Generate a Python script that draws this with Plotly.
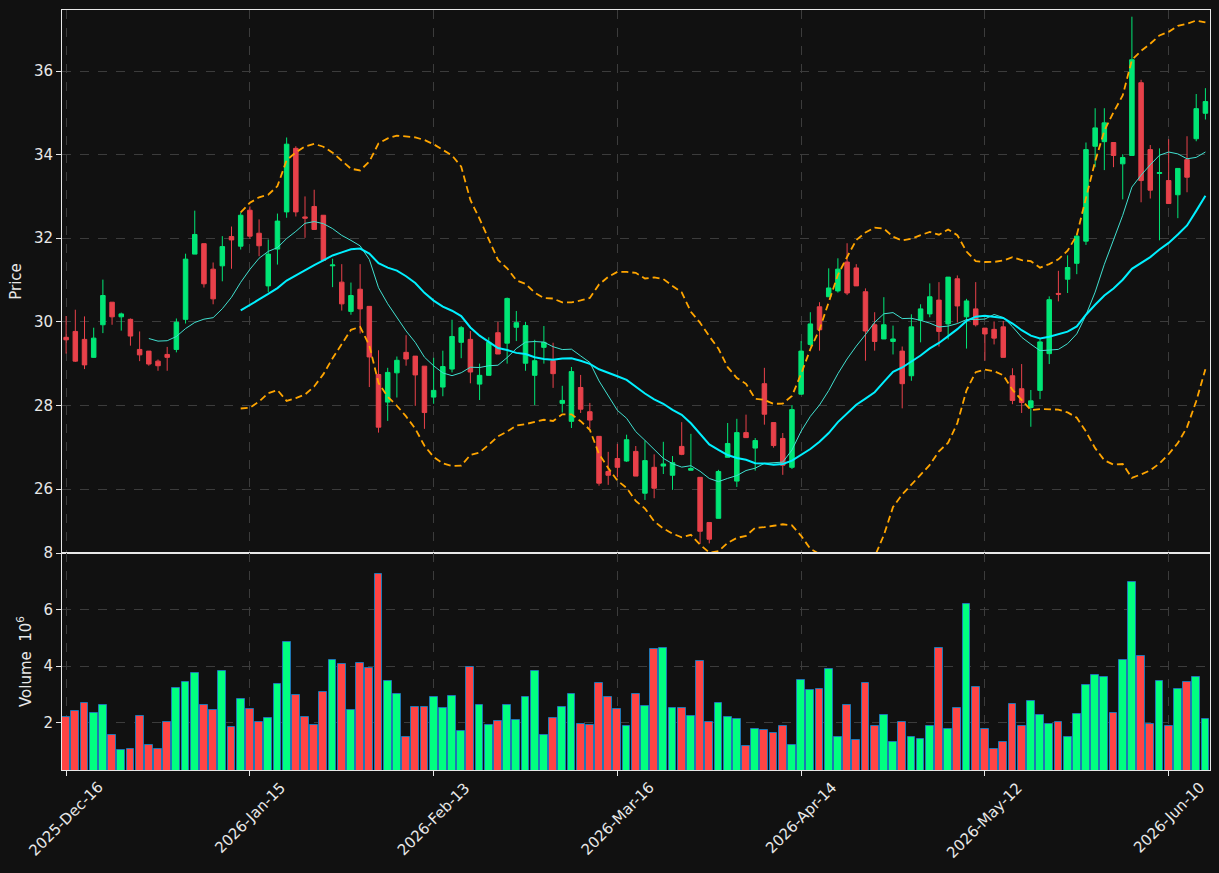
import pandas as pd
import plotly.graph_objects as go

# ---- data ----
tick_labels = ["2025-Dec-16", "2026-Jan-15", "2026-Feb-13", "2026-Mar-16",
               "2026-Apr-14", "2026-May-12", "2026-Jun-10"]
tick_step = 20  # trading sessions between labelled ticks

opens = [29.63, 29.77, 29.58, 29.15, 29.93, 30.47, 30.12, 30.06, 29.34, 29.30,
         29.06, 29.22, 29.34, 30.06, 31.62, 31.87, 31.26, 31.34, 32.04, 31.81,
         32.67, 32.12, 30.86, 31.74, 32.63, 34.15, 32.51, 32.76, 32.55, 31.34,
         30.95, 30.25, 30.78, 30.37, 28.74, 28.08, 28.78, 29.27, 29.18, 28.94,
         28.20, 28.44, 28.87, 29.51, 29.58, 28.51, 28.72, 29.74, 29.49, 29.87,
         29.01, 28.72, 29.39, 29.07, 28.05, 27.62, 28.43, 27.85, 27.26, 26.42,
         26.73, 26.67, 26.90, 25.90, 26.52, 26.55, 26.33, 27.02, 26.45, 26.28,
         25.20, 25.30, 26.76, 26.19, 27.35, 26.98, 28.52, 27.59, 27.21, 26.52,
         28.27, 29.46, 30.36, 30.60, 30.74, 31.43, 31.29, 30.72, 29.93, 29.59,
         29.53, 29.30, 28.71, 30.04, 30.19, 30.52, 29.95, 31.03, 30.12, 30.31,
         29.85, 29.82, 29.88, 28.71, 28.40, 27.95, 28.36, 29.24, 30.68, 31.02,
         31.40, 31.93, 34.20, 34.31, 34.29, 33.78, 33.98, 35.72, 34.12, 33.55,
         33.38, 33.04, 33.88, 34.38, 34.99]
highs = [30.14, 30.29, 30.13, 29.86, 31.01, 30.47, 30.22, 30.08, 29.77, 29.30,
         29.10, 29.40, 30.08, 31.63, 32.66, 31.87, 31.42, 32.05, 32.28, 32.62,
         32.76, 32.45, 31.97, 32.59, 34.41, 34.20, 33.00, 33.16, 32.55, 31.51,
         31.38, 30.94, 31.38, 30.37, 29.32, 28.90, 29.17, 29.68, 29.18, 28.94,
         29.14, 29.31, 30.05, 29.90, 29.78, 29.00, 29.63, 30.00, 30.58, 30.26,
         30.00, 29.57, 29.90, 29.50, 28.47, 28.92, 28.73, 28.06, 27.26, 26.89,
         27.08, 27.30, 27.03, 27.16, 26.83, 27.13, 26.79, 27.60, 27.32, 26.28,
         25.20, 26.46, 27.58, 27.68, 27.78, 27.22, 28.90, 27.59, 27.34, 28.01,
         29.54, 30.23, 30.47, 31.28, 31.52, 31.88, 31.38, 30.80, 30.23, 30.59,
         29.91, 29.41, 30.18, 30.42, 30.92, 30.95, 31.07, 31.11, 30.55, 30.95,
         29.85, 30.01, 30.02, 28.89, 28.99, 28.37, 29.59, 30.61, 31.22, 31.59,
         32.11, 34.29, 35.11, 35.11, 34.30, 34.01, 37.30, 35.79, 34.23, 34.15,
         34.37, 33.67, 34.44, 35.45, 35.59]
lows = [29.24, 29.04, 28.87, 29.14, 29.73, 29.93, 29.79, 29.43, 29.06, 28.95,
        28.83, 28.83, 29.27, 29.96, 31.62, 30.82, 30.42, 30.97, 31.27, 31.73,
        31.99, 31.57, 30.71, 31.37, 32.49, 32.52, 32.01, 32.21, 31.45, 30.83,
        30.27, 30.17, 29.72, 28.44, 27.35, 27.63, 28.19, 28.95, 27.99, 27.44,
        28.04, 28.22, 28.79, 29.13, 28.53, 28.13, 28.72, 29.23, 29.00, 29.54,
        28.83, 28.01, 29.00, 28.42, 27.83, 27.46, 27.82, 27.45, 26.08, 26.10,
        26.28, 26.65, 26.31, 25.74, 25.78, 26.36, 25.98, 26.81, 26.45, 24.69,
        24.70, 25.30, 26.76, 26.05, 27.23, 26.44, 27.54, 26.99, 26.34, 26.48,
        28.26, 29.41, 29.31, 30.60, 30.70, 30.64, 30.86, 29.07, 29.31, 29.59,
        29.22, 27.93, 28.59, 29.51, 30.11, 29.41, 29.58, 29.98, 29.36, 29.89,
        29.07, 29.46, 29.15, 28.03, 27.82, 27.49, 28.15, 28.99, 30.49, 30.69,
        31.14, 31.84, 33.70, 33.63, 33.70, 32.93, 33.98, 32.86, 32.95, 31.95,
        32.83, 32.48, 33.10, 34.32, 34.84]
closes = [29.57, 29.06, 28.97, 29.61, 30.63, 30.12, 30.19, 29.66, 29.21, 28.99,
          28.95, 29.15, 29.99, 31.50, 32.09, 30.91, 30.55, 31.80, 31.96, 32.55,
          32.05, 31.82, 31.62, 32.41, 34.25, 32.63, 32.48, 32.21, 31.47, 31.36,
          30.43, 30.63, 30.31, 29.16, 27.48, 28.79, 29.08, 29.11, 28.73, 27.83,
          28.36, 28.93, 29.65, 29.86, 28.80, 28.72, 29.51, 29.23, 30.56, 29.98,
          29.91, 29.07, 29.51, 28.76, 28.12, 28.81, 27.91, 27.65, 26.14, 26.33,
          26.52, 27.18, 26.31, 26.68, 26.02, 26.60, 26.63, 26.83, 26.49, 24.99,
          24.80, 26.42, 27.09, 27.35, 27.23, 27.16, 27.79, 27.04, 26.57, 27.90,
          29.30, 29.95, 29.81, 30.81, 31.26, 30.69, 30.86, 29.78, 29.53, 29.93,
          29.59, 28.52, 29.88, 30.31, 30.60, 29.77, 31.07, 30.38, 30.50, 29.93,
          29.71, 29.61, 29.15, 28.12, 28.07, 28.11, 29.52, 30.53, 30.66, 31.30,
          32.05, 34.12, 34.64, 34.76, 33.98, 33.93, 36.27, 33.38, 33.15, 33.57,
          32.83, 33.67, 33.46, 35.10, 35.27]
volumes_millions = [2.21, 2.42, 2.71, 2.35, 2.64, 1.58, 1.04, 1.08, 2.25, 1.22,
                    1.08, 2.04, 3.24, 3.45, 3.77, 2.64, 2.46, 3.84, 1.86, 2.85,
                    2.50, 2.04, 2.18, 3.38, 4.87, 2.99, 2.21, 1.93, 3.10, 4.23,
                    4.09, 2.46, 4.12, 3.95, 7.27, 3.49, 3.03, 1.50, 2.57, 2.57,
                    2.92, 2.53, 2.96, 1.72, 3.98, 2.64, 1.93, 2.07, 2.64, 2.11,
                    2.92, 3.84, 1.58, 2.18, 2.57, 3.03, 1.97, 1.93, 3.42, 2.92,
                    2.50, 1.89, 3.03, 2.60, 4.62, 4.66, 2.53, 2.53, 2.25, 4.19,
                    2.04, 2.71, 2.21, 2.14, 1.19, 1.79, 1.75, 1.65, 1.89, 1.22,
                    3.52, 3.17, 3.20, 3.91, 1.50, 2.64, 1.40, 3.42, 1.89, 2.28,
                    1.33, 2.04, 1.50, 1.43, 1.89, 4.65, 1.79, 2.53, 6.21, 3.27,
                    1.79, 1.08, 1.33, 2.67, 1.89, 2.78, 2.28, 1.97, 2.04, 1.50,
                    2.31, 3.35, 3.70, 3.63, 2.35, 4.23, 6.96, 4.37, 1.96, 3.49,
                    1.88, 3.20, 3.45, 3.63, 2.14]

# ---- derived series ----
n = len(closes)
x = list(range(n))
s_close = pd.Series(closes)
ma10 = s_close.rolling(10).mean()
ma20 = s_close.rolling(20).mean()
sd20 = s_close.rolling(20).std()
bb_up = ma20 + 2 * sd20
bb_lo = ma20 - 2 * sd20

UP_C, DN_C = "#00E676", "#E8414A"
VUP_C, VDN_C = "#00FF80", "#FF4444"
vol_colors = [VUP_C if c >= o else VDN_C for o, c in zip(opens, closes)]

BG = "#111111"
GRID = "#3c3c3c"
AX = "#e8e8e8"
FONT = "DejaVu Sans"

fig = go.Figure()
fig.add_trace(go.Candlestick(
    x=x, open=opens, high=highs, low=lows, close=closes,
    increasing=dict(line=dict(color=UP_C, width=1), fillcolor=UP_C),
    decreasing=dict(line=dict(color=DN_C, width=1), fillcolor=DN_C),
    whiskerwidth=0, xaxis="x", yaxis="y", showlegend=False))
fig.add_trace(go.Scatter(x=x, y=ma10, mode="lines", line=dict(color="#40E0D0", width=1),
                         xaxis="x", yaxis="y", showlegend=False))
fig.add_trace(go.Scatter(x=x, y=ma20, mode="lines", line=dict(color="#00F0FF", width=2),
                         xaxis="x", yaxis="y", showlegend=False))
for band in (bb_up, bb_lo):
    fig.add_trace(go.Scatter(x=x, y=band, mode="lines",
                             line=dict(color="#FFA500", width=1.8, dash="7px,4px"),
                             xaxis="x", yaxis="y", showlegend=False))
fig.add_trace(go.Bar(x=x, y=volumes_millions, width=0.85,
                     marker=dict(color=vol_colors, line=dict(color="#1f77b4", width=1)),
                     xaxis="x2", yaxis="y2", showlegend=False))

tickvals = [i * tick_step for i in range(len(tick_labels))]
xr = [-0.45, n - 0.5]
common_x = dict(range=xr, tickvals=tickvals, showgrid=True, gridcolor=GRID, griddash="dash",
                gridwidth=1, showline=True, mirror=True, linecolor=AX, linewidth=1,
                zeroline=False, fixedrange=True, automargin=False)
common_y = dict(showgrid=True, gridcolor=GRID, griddash="dash", gridwidth=1, showline=True,
                mirror=True, linecolor=AX, linewidth=1, zeroline=False, ticks="outside",
                ticklen=5, tickcolor=AX, tickfont=dict(family=FONT, size=15, color=AX),
                automargin=False)

split = 217 / 760
fig.update_layout(
    width=1219, height=873,
    margin=dict(l=62, r=9, t=10, b=103, autoexpand=False),
    paper_bgcolor=BG, plot_bgcolor=BG,
    font=dict(family=FONT, color=AX, size=15),
    xaxis=dict(**common_x, anchor="y", showticklabels=False, ticks="",
               rangeslider=dict(visible=False), domain=[0, 1]),
    xaxis2=dict(**common_x, anchor="y2", matches="x", showticklabels=False,
                ticks="outside", ticklen=5, tickcolor=AX, domain=[0, 1]),
    yaxis=dict(**common_y, domain=[split, 1], range=[24.47, 37.46],
               tickvals=[26, 28, 30, 32, 34, 36],
               title=dict(text="Price", font=dict(family=FONT, size=15, color=AX), standoff=8)),
    yaxis2=dict(**common_y, domain=[0, split], range=[0.33, 8.0001],
                tickvals=[2, 4, 6, 8],
                title=dict(text="Volume  10<sup>6</sup>", font=dict(family=FONT, size=15, color=AX),
                           standoff=8)),
    bargap=0,
)

for tv, lab in zip(tickvals, tick_labels):
    fig.add_annotation(x=tv, y=0, xref="x2", yref="paper", text=lab, showarrow=False,
                       textangle=-45, xanchor="center", yanchor="top", yshift=-6,
                       font=dict(family=FONT, size=15, color=AX))

fig.write_html("out.html")
